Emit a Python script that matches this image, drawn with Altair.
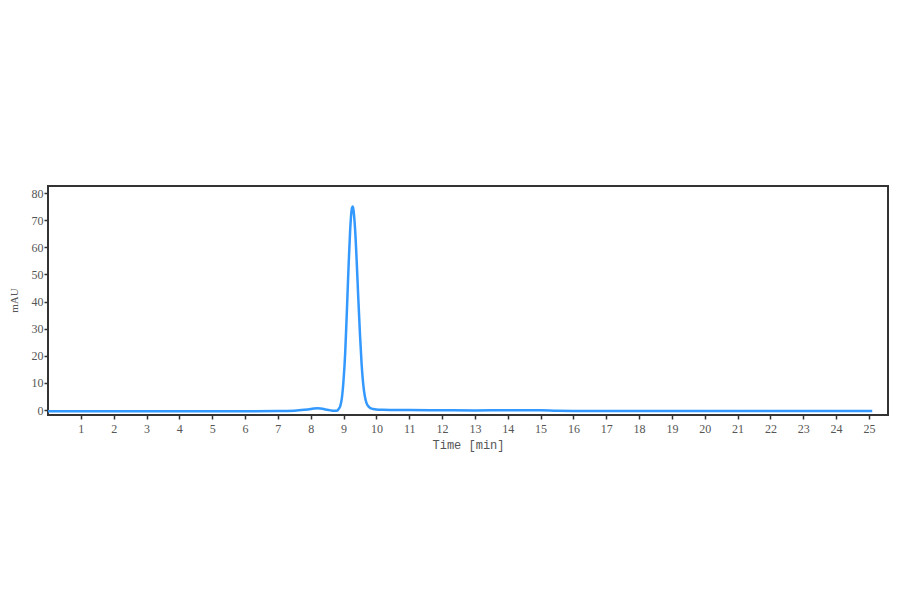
import altair as alt
import pandas as pd

# Chromatogram trace
time_min = [0, 2, 4, 6, 7.0, 7.5, 7.8, 8.0, 8.1, 8.2, 8.3, 8.4, 8.5, 8.6, 8.7, 8.8,
            8.85, 8.9, 8.95, 9.0, 9.05, 9.1, 9.15, 9.2, 9.25, 9.28, 9.3, 9.35, 9.4,
            9.45, 9.5, 9.55, 9.6, 9.65, 9.7, 9.75, 9.8, 9.9, 10.0, 10.2, 10.5, 11,
            12, 13, 14, 15, 15.5, 16, 18, 20, 22, 24, 25.1]
mau = [-0.4, -0.4, -0.4, -0.4, -0.35, -0.2, 0.1, 0.4, 0.6, 0.7, 0.6, 0.4, 0.1, -0.1,
       -0.25, -0.2, 0.4, 1.5, 4.5, 11, 21, 36, 52, 66, 74, 75, 74, 67, 55,
       41, 28, 17, 9.5, 5, 2.6, 1.5, 0.9, 0.4, 0.2, 0.1, 0.05, 0.0,
       -0.05, -0.1, -0.05, -0.05, -0.25, -0.3, -0.3, -0.3, -0.3, -0.3, -0.3]

x_ticks = list(range(1, 26))
y_ticks = list(range(0, 81, 10))

df = pd.DataFrame({"t": time_min, "v": mau})

chart = alt.Chart(df).mark_line(color="#3399FF", strokeWidth=2.5, interpolate="monotone").encode(
    x=alt.X("t:Q", scale=alt.Scale(domain=[0, 25.58], nice=False, zero=False),
            axis=alt.Axis(values=x_ticks, title="Time [min]", grid=False,
                          labelFont="Liberation Serif", labelFontSize=12, labelColor="#555",
                          tickSize=4, tickColor="#333", tickWidth=1.5, labelPadding=4,
                          domain=False,
                          titleFont="Liberation Mono", titleFontSize=12, titleFontWeight="normal",
                          titleColor="#555", titlePadding=5)),
    y=alt.Y("v:Q", scale=alt.Scale(domain=[-1.8, 82.6], nice=False, zero=False),
            axis=alt.Axis(values=y_ticks, title="mAU", grid=False,
                          labelFont="Liberation Serif", labelFontSize=12, labelColor="#555",
                          tickSize=4, tickColor="#333", tickWidth=1.5, labelPadding=1,
                          domain=False,
                          titleFont="Liberation Serif", titleFontSize=11, titleFontWeight="normal",
                          titleColor="#555", titleX=-34, titleY=114,
                          titleAlign="center", titleBaseline="middle")),
).properties(
    width=840, height=229,
    autosize=alt.AutoSizeParams(type="none"),
    padding={"left": 40, "top": 178, "right": 4, "bottom": 60},
    background="white",
).configure_view(
    stroke="#333333", strokeWidth=2, fill="white"
)

chart.save("out.html", embed_options={"renderer": "svg", "actions": False})
